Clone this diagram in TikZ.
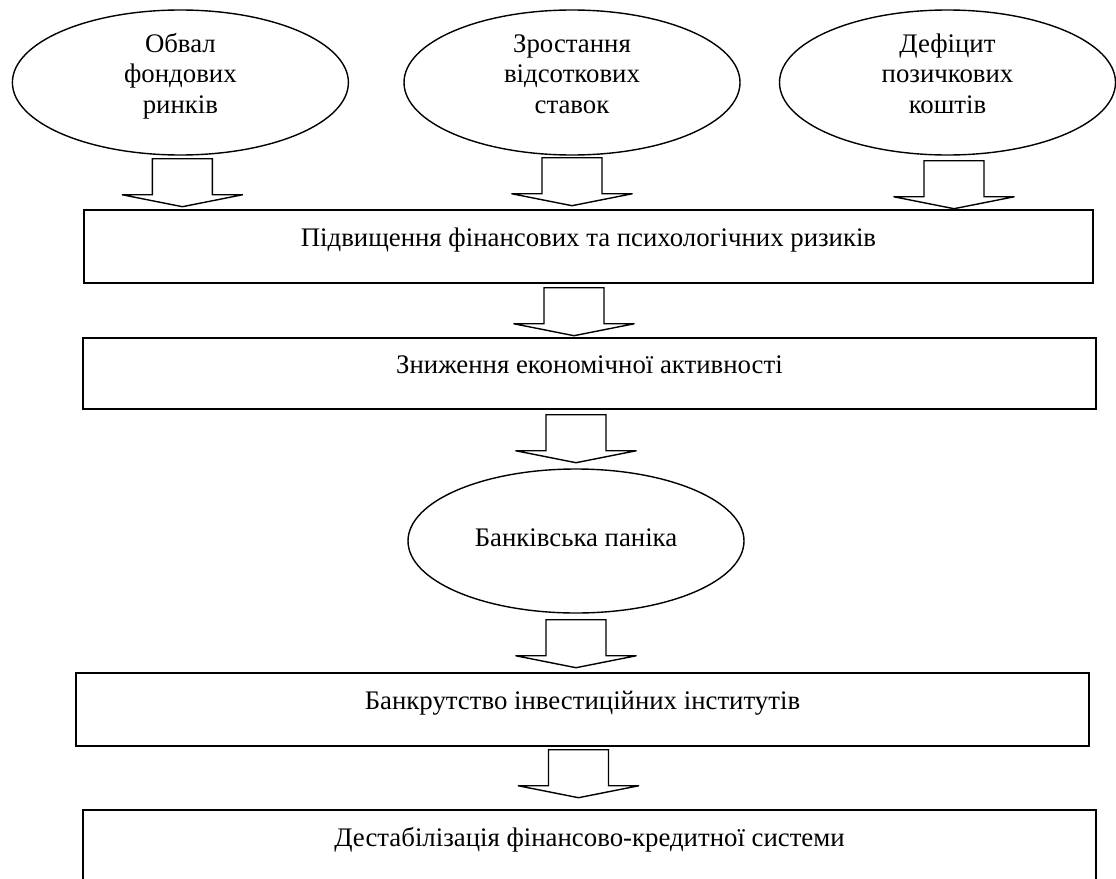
\documentclass[tikz,border=0pt]{standalone}
\usepackage{fontspec}
\setmainfont{Liberation Serif}
\usetikzlibrary{shapes.geometric,calc}
% invisible struts that balance the text inside the ovals
\newcommand\tstr{\rule{0pt}{20pt}}
\newcommand\bstr{\rule[-20pt]{0pt}{20pt}}
\newcommand\bstrs{\rule[-10pt]{0pt}{10pt}}
\tikzset{
  base/.style={draw, line width=1.4pt, inner sep=0pt, font=\fontsize{26.8}{30.5}\selectfont},
  oval/.style={base, ellipse, minimum width=336pt, minimum height=145pt, align=center},
  stage/.style={base, rectangle, text height=12pt, text depth=12pt},
  arrowline/.style={draw, fill=white, line width=1.4pt, line join=miter},
  downarrow/.pic={\path[arrowline] (-30,0) -- (-30,36) -- (-60.5,36) -- (0,48) -- (60.5,36) -- (30,36) -- (30,0) -- cycle;}
}
\begin{document}
\begin{tikzpicture}[x=1pt,y=-1pt]
\useasboundingbox (0,0) rectangle (1116,878);
\fill[white] (0,0) rectangle (1116,878);
\clip (0,0) rectangle (1116,878);

% causes
\node[oval] (e1) at (180.4,82.5) {\tstr Обвал\\фондових\\ринків\bstr};
\node[oval] (e2) at (572,82.5) {\tstr Зростання\\відсоткових\\ставок\bstr};
\node[oval] (e3) at (947.5,82.5) {\tstr Дефіцит\\позичкових\\коштів\bstr};

% chain of consequences
\node[stage, minimum width=1009pt, minimum height=73pt] (b1) at (588.5,246.5) {Підвищення фінансових та психологічних ризиків};
\node[stage, minimum width=1013pt, minimum height=71pt] (b2) at (589.5,373.5) {Зниження економічної активності};
\node[oval, minimum height=144pt] (bank) at (576,541) {\tstr Банківська паніка\bstrs};
\node[stage, minimum width=1013pt, minimum height=73pt] (b3) at (582.5,709.5) {Банкрутство інвестиційних інститутів};
\node[stage, minimum width=1013pt, minimum height=73pt] (b4) at (589.5,846.5) {Дестабілізація фінансово-кредитної системи};

% block arrows
\pic at ($(e1.south)+(2,3)$) {downarrow};
\pic at ($(e2.south)+(0,2)$) {downarrow};
\pic at ($(e3.south)+(6.5,5)$) {downarrow};
\pic at ($(b1.south)+(-14.5,4)$) {downarrow};
\pic at ($(b2.south)+(-13.5,5)$) {downarrow};
\pic at ($(bank.south)+(0,6)$) {downarrow};
\pic at ($(b3.south)+(-4,3)$) {downarrow};
\end{tikzpicture}
\end{document}
